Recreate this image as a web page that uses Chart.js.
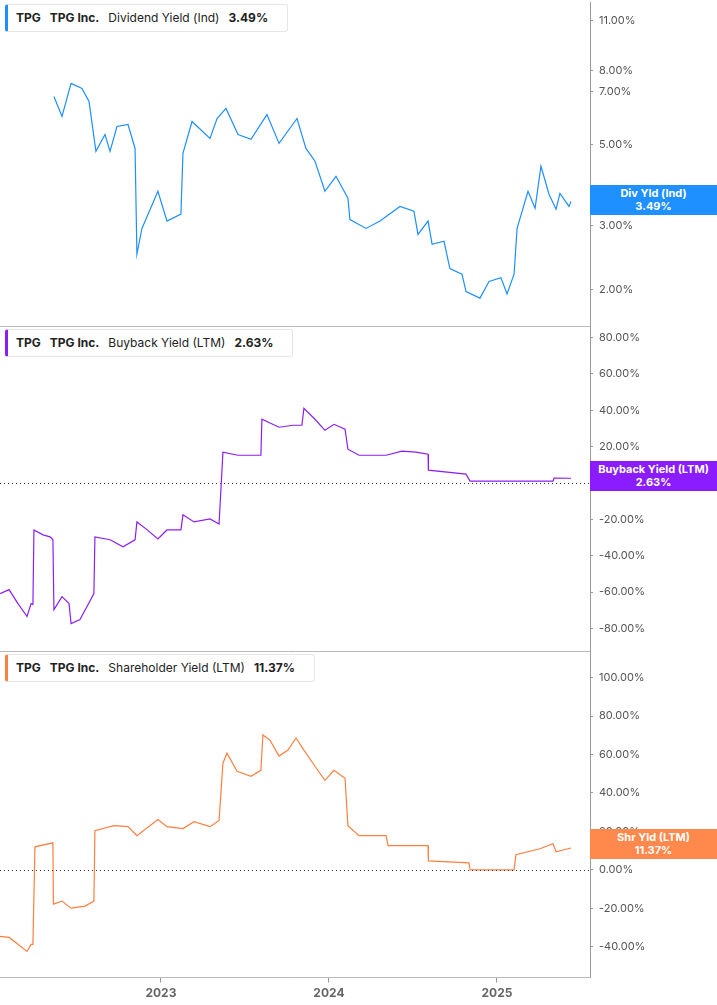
<!DOCTYPE html>
<html lang="en">
  <head>
    <meta charset="UTF-8" />
    <title>TPG Yields</title>
    <style>
      body { margin: 0; background: #fff; font-family: Inter, Arial, sans-serif; }
      .panel { position: absolute; left: 0; width: 717px; }
      .legend {
        position: absolute; left: 5px; top: 4px; height: 26px; padding: 0 10px 0 8px;
        border: 1px solid #e6e6e6; border-left: 3px solid; border-radius: 3px; background: #fff;
        font-size: 12px; line-height: 26px; color: #222; white-space: nowrap;
      }
      .legend b { font-weight: 700; margin-right: 9px; }
      .legend span { margin-right: 9px; }
      .badge {
        position: absolute; left: 590px; width: 127px; color: #fff; font-size: 11px;
        font-weight: 700; text-align: center; line-height: 13px; padding: 2px 0;
      }
    </style>
    <script src="https://cdn.jsdelivr.net/npm/chart.js"></script>
  </head>
  <body>
    <!-- canvases overhang a bit so the plot areas line up with the panel edges -->
    <div class="panel" style="top:-10px;height:349px"><canvas id="divChart"></canvas></div>
    <div class="panel" style="top:315px;height:349px"><canvas id="bbChart"></canvas></div>
    <div class="panel" style="top:640px;height:365px"><canvas id="shrChart"></canvas></div>

    <div class="legend" style="top:4px;border-left-color:#1e8fff"><b>TPG</b><b>TPG Inc.</b><span>Dividend Yield (Ind)</span><b>3.49%</b></div>
    <div class="legend" style="top:329px;border-left-color:#8b1ef5"><b>TPG</b><b>TPG Inc.</b><span>Buyback Yield (LTM)</span><b>2.63%</b></div>
    <div class="legend" style="top:654px;border-left-color:#ff7f3f"><b>TPG</b><b>TPG Inc.</b><span>Shareholder Yield (LTM)</span><b>11.37%</b></div>

    <div class="badge" style="top:185px;background:#1e90ff">Div Yld (Ind)<br>3.49%</div>
    <div class="badge" style="top:461px;background:#8a1cff">Buyback Yield (LTM)<br>2.63%</div>
    <div class="badge" style="top:829px;background:#ff884d">Shr Yld (LTM)<br>11.37%</div>

    <script>
      // dates as decimal years
      const divDates = [2022.363, 2022.411, 2022.465, 2022.530, 2022.572, 2022.613, 2022.667, 2022.697, 2022.738, 2022.804,
        2022.846, 2022.857, 2022.887, 2022.982, 2023.036, 2023.119, 2023.131, 2023.185, 2023.292, 2023.334,
        2023.387, 2023.459, 2023.536, 2023.631, 2023.703, 2023.810, 2023.863, 2023.917, 2023.976, 2024.042,
        2024.113, 2024.125, 2024.221, 2024.304, 2024.423, 2024.506, 2024.530, 2024.590, 2024.614, 2024.685,
        2024.720, 2024.792, 2024.816, 2024.899, 2024.953, 2025.024, 2025.060, 2025.102, 2025.120, 2025.185,
        2025.227, 2025.262, 2025.310, 2025.352, 2025.375, 2025.429, 2025.441];
      const divYield = [6.78, 5.98, 7.37, 7.14, 6.57, 4.79, 5.33, 4.79, 5.61, 5.68,
        4.88, 2.50, 2.94, 3.72, 3.08, 3.22, 4.73, 5.79, 5.20, 5.90,
        6.29, 5.33, 5.17, 6.05, 5.04, 5.90, 4.88, 4.50, 3.72, 4.09,
        3.56, 3.11, 2.94, 3.08, 3.38, 3.28, 2.83, 3.08, 2.66, 2.71,
        2.28, 2.20, 1.97, 1.89, 2.10, 2.15, 1.94, 2.20, 2.94, 3.72,
        3.34, 4.36, 3.65, 3.32, 3.67, 3.38, 3.49];

      const bbDates = [2022.042, 2022.096, 2022.149, 2022.203, 2022.227, 2022.238, 2022.244, 2022.298, 2022.340, 2022.357,
        2022.363, 2022.411, 2022.453, 2022.465, 2022.518, 2022.560, 2022.601, 2022.607, 2022.697, 2022.774,
        2022.846, 2022.857, 2022.911, 2022.982, 2023.036, 2023.119, 2023.131, 2023.197, 2023.292, 2023.346,
        2023.369, 2023.459, 2023.595, 2023.601, 2023.703, 2023.786, 2023.839, 2023.851, 2023.917, 2023.976,
        2024.030, 2024.096, 2024.113, 2024.179, 2024.340, 2024.435, 2024.518, 2024.590, 2024.592, 2024.816,
        2024.840, 2025.334, 2025.340, 2025.441];
      const bbYield = [-60.8, -58.6, -66.3, -73.4, -66.3, -66.8, -25.8, -28.5, -29.6, -31.2,
        -69.6, -62.5, -66.3, -77.3, -75.1, -67.9, -60.8, -29.6, -31.2, -35.1,
        -31.2, -21.4, -25.2, -30.7, -25.8, -25.8, -17.5, -21.4, -19.7, -22.5,
        17.0, 15.3, 15.3, 35.1, 30.7, 31.8, 31.8, 41.1, 35.1, 29.0,
        32.3, 29.6, 18.6, 15.3, 15.3, 17.5, 17.0, 15.9, 7.1, 4.9,
        1.1, 1.1, 2.7, 2.63];

      const shrDates = [2022.042, 2022.096, 2022.149, 2022.203, 2022.227, 2022.238, 2022.250, 2022.357, 2022.360, 2022.411,
        2022.465, 2022.548, 2022.601, 2022.607, 2022.720, 2022.804, 2022.857, 2022.982, 2023.036, 2023.131,
        2023.197, 2023.292, 2023.346, 2023.369, 2023.393, 2023.453, 2023.536, 2023.595, 2023.607, 2023.649,
        2023.703, 2023.756, 2023.804, 2023.851, 2023.917, 2023.976, 2024.030, 2024.096, 2024.113, 2024.179,
        2024.340, 2024.352, 2024.590, 2024.592, 2024.834, 2024.840, 2025.102, 2025.113, 2025.256, 2025.334,
        2025.352, 2025.441];
      const shrYield = [-34.6, -35.1, -38.7, -42.4, -38.7, -38.7, 12.0, 14.1, -17.8, -16.2,
        -19.9, -18.8, -16.2, 20.4, 23.0, 22.5, 17.8, 26.2, 22.5, 21.5,
        25.1, 22.5, 25.7, 55.5, 60.7, 51.3, 48.7, 51.8, 70.2, 67.5,
        59.2, 62.3, 68.6, 62.3, 53.9, 46.6, 51.8, 47.6, 23.0, 17.8,
        17.8, 12.6, 12.6, 4.7, 3.7, 0, 0, 7.9, 11.0, 13.6,
        9.4, 11.37];

      const yearTicks = [2023, 2024, 2025];
      const divTicks = [2, 3, 5, 7, 8, 11];
      const bbTicks = [-80, -60, -40, -20, 0, 20, 40, 60, 80];
      const shrTicks = [-40, -20, 0, 20, 40, 60, 80, 100];

      const X_MIN = 2022.042, X_MAX = 2025.554;

      const zeroLine = {
        id: "zeroLine",
        afterDraw(chart, args, opts) {
          if (!opts.show) return;
          const y = chart.scales.y.getPixelForValue(0);
          const ctx = chart.ctx;
          ctx.save();
          ctx.strokeStyle = "#333";
          ctx.lineWidth = 1;
          ctx.setLineDash([1, 3]);
          ctx.beginPath();
          ctx.moveTo(0, Math.round(y) + 0.5);
          ctx.lineTo(chart.chartArea.right, Math.round(y) + 0.5);
          ctx.stroke();
          ctx.restore();
        },
      };

      function makeChart(id, dates, values, color, yOpts, showX, zero) {
        const points = dates.map((d, i) => ({ x: d, y: values[i] }));
        return new Chart(document.getElementById(id), {
          type: "line",
          data: { datasets: [{ data: points, borderColor: color, borderWidth: 1.2, pointRadius: 0, tension: 0 }] },
          plugins: [zeroLine],
          options: {
            responsive: true,
            maintainAspectRatio: false,
            animation: false,
            layout: { padding: 0 },
            plugins: { legend: { display: false }, tooltip: { enabled: false }, zeroLine: { show: zero } },
            scales: {
              x: {
                type: "linear",
                min: X_MIN,
                max: X_MAX,
                display: true,
                afterBuildTicks: (s) => { s.ticks = showX ? yearTicks.map((v) => ({ value: v })) : []; },
                ticks: {
                  display: showX,
                  color: "#666",
                  font: { size: 12, weight: "bold", family: "Inter, Arial" },
                  callback: (v) => String(v),
                  maxRotation: 0,
                  padding: 4,
                },
                grid: { drawOnChartArea: false, tickLength: showX ? 5 : 0, color: "#999" },
                border: { color: "#bbb" },
              },
              y: Object.assign({
                position: "right",
                afterFit: (s) => { s.width = 127; },
                ticks: {
                  color: "#555",
                  font: { size: 11, family: "Inter, Arial" },
                  padding: 6,
                  callback: (v) => v.toFixed(2) + "%",
                },
                grid: { drawOnChartArea: false, tickLength: 3, color: "#999" },
                border: { color: "#999" },
              }, yOpts),
            },
          },
        });
      }

      makeChart("divChart", divDates, divYield, "#1e8fff", {
        type: "logarithmic", min: 1.58, max: 12.3,
        afterBuildTicks: (s) => { s.ticks = divTicks.map((v) => ({ value: v })); },
      }, false, false);

      makeChart("bbChart", bbDates, bbYield, "#8b1ef5", {
        type: "linear", min: -92.6, max: 85.5,
        afterBuildTicks: (s) => { s.ticks = bbTicks.map((v) => ({ value: v })); },
      }, false, true);

      makeChart("shrChart", shrDates, shrYield, "#ff7f3f", {
        type: "linear", min: -56, max: 113,
        afterBuildTicks: (s) => { s.ticks = shrTicks.map((v) => ({ value: v })); },
      }, true, true);
    </script>
  </body>
</html>
